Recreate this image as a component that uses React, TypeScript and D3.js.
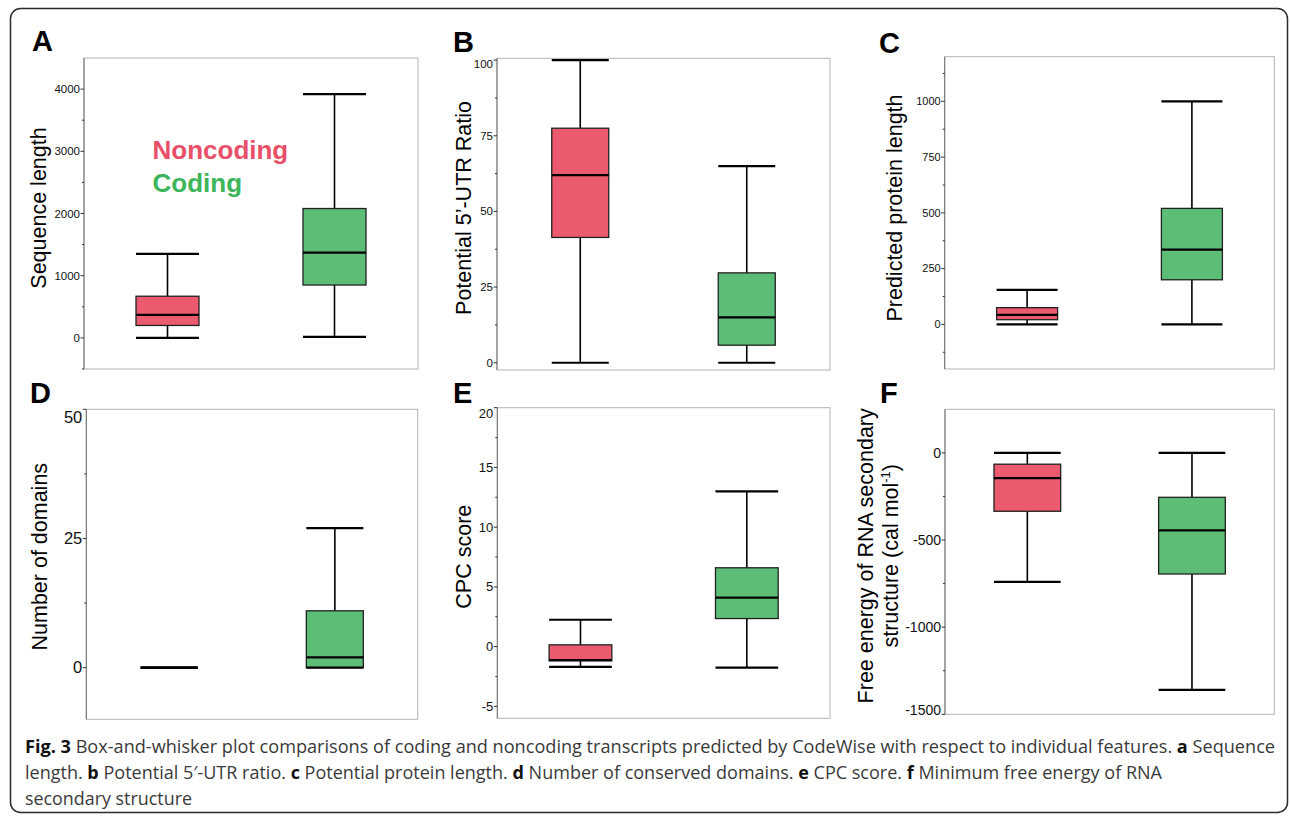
import React, { useEffect, useRef } from "react";
import * as d3 from "d3";

const groups = ["Noncoding", "Coding"];
const groupFill = ["#EC5A6F", "#5CBD77"];
const legendColors = ["#E94F69", "#3DB55B"];

// five-number summaries: min, Q1, median, Q3, max
const seqLengthNoncoding = [0, 200, 370, 670, 1350];
const seqLengthCoding = [15, 850, 1370, 2080, 3920];
const utrRatioNoncoding = [0, 41.4, 62, 77.5, 100];
const utrRatioCoding = [0, 5.8, 15, 29.7, 65];
const proteinLengthNoncoding = [0, 21, 43, 75, 155];
const proteinLengthCoding = [0, 200, 335, 520, 1000];
const domainsNoncoding = [0, 0, 0, 0, 0];
const domainsCoding = [0, 0, 2, 11, 27];
const cpcNoncoding = [-1.7, -1.2, -1.12, 0.15, 2.25];
const cpcCoding = [-1.75, 2.35, 4.1, 6.6, 13];
const energyNoncoding = [-740, -335, -145, -65, 0];
const energyCoding = [-1360, -695, -445, -255, 0];

// tick labels
const seqLengthTicks = [0, 1000, 2000, 3000, 4000];
const utrRatioTicks = [0, 25, 50, 75, 100];
const proteinLengthTicks = [0, 250, 500, 750, 1000];
const domainsTicks = [0, 25, 50];
const cpcTicks = [-5, 0, 5, 10, 15, 20];
const energyTicks = [-1500, -1000, -500, 0];

const seqLengthMinor = [-500, 500, 1500, 2500, 3500];
const utrRatioMinor = [12.5, 37.5, 62.5, 87.5];
const proteinLengthMinor = [-125, 125, 375, 625, 875, 1125];
const domainsMinor = [12.5, 37.5];
const cpcMinor = [-2.5, 2.5, 7.5, 12.5, 17.5];
const energyMinor = [-1250, -750, -250];

const panels = [
  { label: "A", title: ["Sequence length"], data: [seqLengthNoncoding, seqLengthCoding],
    ticks: seqLengthTicks, minor: seqLengthMinor, domain: [-500, 4500],
    frame: [84, 418, 58, 369], boxW: 63, tickFont: 11.5, titleX: [46], titleY: 208, lab: [32, 51] },
  { label: "B", title: ["Potential 5\u2019-UTR Ratio"], data: [utrRatioNoncoding, utrRatioCoding],
    ticks: utrRatioTicks, minor: utrRatioMinor, domain: [-2.4, 100.6],
    frame: [497, 830, 58.3, 370], boxW: 57, tickFont: 11.5, titleX: [470.5], titleY: 208, lab: [453, 51.7] },
  { label: "C", title: ["Predicted protein length"], data: [proteinLengthNoncoding, proteinLengthCoding],
    ticks: proteinLengthTicks, minor: proteinLengthMinor, domain: [-200, 1200],
    frame: [944.7, 1274.3, 56.7, 369], boxW: 61, tickFont: 11, titleX: [901.5], titleY: 208, lab: [879, 53] },
  { label: "D", title: ["Number of domains"], data: [domainsNoncoding, domainsCoding],
    ticks: domainsTicks, minor: domainsMinor, domain: [-10, 50],
    frame: [86.3, 417.7, 409.3, 719.3], boxW: 57, tickFont: 16.5, titleX: [47], titleY: 556.7, lab: [30, 403.3] },
  { label: "E", title: ["CPC score"], data: [cpcNoncoding, cpcCoding],
    ticks: cpcTicks, minor: cpcMinor, domain: [-6, 20],
    frame: [497.3, 830, 407.7, 718.3], boxW: 62.7, tickFont: 13, titleX: [470.5], titleY: 556.7, lab: [453, 403.3] },
  { label: "F", title: ["Free energy of RNA secondary", "structure (cal mol"], data: [energyNoncoding, energyCoding],
    ticks: energyTicks, minor: energyMinor, domain: [-1500, 250],
    frame: [945, 1274.3, 409.3, 714.3], boxW: 66.7, tickFont: 14, titleX: [873, 897.5], titleY: 555.8, lab: [880, 403.3] },
];

const captionLines = [
  { y: 753, len: 1250, parts: [["Fig. 3", true], [" Box-and-whisker plot comparisons of coding and noncoding transcripts predicted by CodeWise with respect to individual features. ", false], ["a", true], [" Sequence", false]] },
  { y: 779, len: 1137, parts: [["length. ", false], ["b", true], [" Potential 5\u2032-UTR ratio. ", false], ["c", true], [" Potential protein length. ", false], ["d", true], [" Number of conserved domains. ", false], ["e", true], [" CPC score. ", false], ["f", true], [" Minimum free energy of RNA", false]] },
  { y: 805, len: 167, parts: [["secondary structure", false]] },
];

const sans = "Liberation Sans, Arial, Helvetica, sans-serif";

function App() {
  const svgRef = useRef<SVGSVGElement>(null);

  useEffect(() => {
    const svg = d3.select(svgRef.current);
    svg.selectAll("*").remove();

    // Outer figure border
    svg.append("rect")
      .attr("x", 10.5).attr("y", 8.5)
      .attr("width", 1277).attr("height", 804)
      .attr("rx", 10)
      .attr("fill", "none")
      .attr("stroke", "#2b2b2b")
      .attr("stroke-width", 1.5);

    panels.forEach((p) => {
      const [x0, x1, y0, y1] = p.frame;
      const g = svg.append("g");

      const x = d3.scalePoint().domain(groups).range([x0, x1]).padding(0.5);
      const y = d3.scaleLinear().domain(p.domain).range([y1, y0]);

      // plot frame
      g.append("rect")
        .attr("x", x0).attr("y", y0)
        .attr("width", x1 - x0).attr("height", y1 - y0)
        .attr("fill", "none")
        .attr("stroke", "#b3b3b3")
        .attr("stroke-width", 1);
      g.append("line")
        .attr("x1", x0).attr("x2", x0).attr("y1", y0).attr("y2", y1)
        .attr("stroke", "#707070").attr("stroke-width", 1);

      // ticks
      g.selectAll(".minor").data(p.minor).enter().append("line")
        .attr("x1", x0 - 2).attr("x2", x0)
        .attr("y1", (d) => y(d)).attr("y2", (d) => y(d))
        .attr("stroke", "#333").attr("stroke-width", 1);
      g.selectAll(".major").data(p.ticks).enter().append("line")
        .attr("x1", x0 - 3.5).attr("x2", x0)
        .attr("y1", (d) => y(d)).attr("y2", (d) => y(d))
        .attr("stroke", "#333").attr("stroke-width", 1);
      g.selectAll(".tlabel").data(p.ticks).enter().append("text")
        .attr("x", x0 - 4)
        .attr("y", (d) => Math.min(Math.max(y(d), y0 + p.tickFont * 0.45), y1 - p.tickFont * 0.3))
        .attr("dy", "0.35em")
        .attr("text-anchor", "end")
        .style("font-family", sans)
        .style("font-size", p.tickFont + "px")
        .style("fill", "#111")
        .text((d) => String(d));

      // boxes
      p.data.forEach((s, i) => {
        const cx = x(groups[i]) as number;
        const hw = p.boxW / 2;
        const [mn, q1, med, q3, mx] = s;
        g.append("line")
          .attr("x1", cx).attr("x2", cx).attr("y1", y(mx)).attr("y2", y(mn))
          .attr("stroke", "#000").attr("stroke-width", 1.6);
        g.append("rect")
          .attr("x", cx - hw).attr("y", y(q3))
          .attr("width", p.boxW).attr("height", Math.max(0, y(q1) - y(q3)))
          .attr("fill", groupFill[i])
          .attr("stroke", "#222").attr("stroke-width", 1.3);
        [mn, mx].forEach((v) => {
          g.append("line")
            .attr("x1", cx - hw).attr("x2", cx + hw).attr("y1", y(v)).attr("y2", y(v))
            .attr("stroke", "#000").attr("stroke-width", 2.2);
        });
        g.append("line")
          .attr("x1", cx - hw).attr("x2", cx + hw).attr("y1", y(med)).attr("y2", y(med))
          .attr("stroke", "#000").attr("stroke-width", 2.2);
      });

      // y axis title
      p.title.forEach((t, k) => {
        const tx = g.append("text")
          .attr("transform", `translate(${p.titleX[k]},${p.titleY}) rotate(-90)`)
          .attr("text-anchor", "middle")
          .style("font-family", sans)
          .style("font-size", "21.5px")
          .style("fill", "#000")
          .text(t);
        if (p.label === "F" && k === 1) {
          tx.append("tspan").attr("dy", -8).style("font-size", "13px").text("-1");
          tx.append("tspan").attr("dy", 8).text(")");
        }
      });

      // panel letter
      g.append("text")
        .attr("x", p.lab[0]).attr("y", p.lab[1])
        .style("font-family", sans)
        .style("font-size", "29px")
        .style("font-weight", "bold")
        .style("fill", "#000")
        .text(p.label);
    });

    // legend inside panel A
    groups.forEach((name, i) => {
      svg.append("text")
        .attr("x", 152.5).attr("y", 159 + i * 33)
        .style("font-family", sans)
        .style("font-size", "26px")
        .style("font-weight", "bold")
        .style("fill", legendColors[i])
        .text(name);
    });

    // caption
    captionLines.forEach((line) => {
      const t = svg.append("text")
        .attr("x", 25).attr("y", line.y)
        .attr("textLength", line.len)
        .attr("lengthAdjust", "spacingAndGlyphs")
        .style("font-family", "Open Sans, Noto Sans, sans-serif")
        .style("font-size", "18px")
        .style("fill", "#3a3a3a");
      line.parts.forEach(([s, b]) => {
        t.append("tspan")
          .style("font-weight", b ? "bold" : "normal")
          .style("fill", b ? "#111" : "#3a3a3a")
          .text(s as string);
      });
    });
  }, []);

  return (
    <svg
      ref={svgRef}
      width={1290}
      height={816}
      style={{ position: "absolute", left: 0, top: 0, background: "#fff" }}
    />
  );
}

export default App;
